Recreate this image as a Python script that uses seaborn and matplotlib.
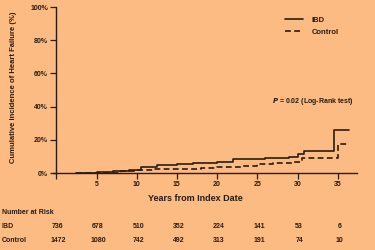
import matplotlib
matplotlib.use("Agg")
import matplotlib.pyplot as plt
import seaborn as sns
import pandas as pd

# ---- data ----
ibd_years = [2.5, 5, 7, 9, 10.5, 12.5, 15, 17, 20, 22, 26, 29, 30, 30.8, 34.5, 36.4]
ibd_vals = [0, 0.5, 1.0, 2.0, 3.4, 5.0, 5.5, 6.0, 6.8, 8.2, 8.8, 9.8, 11.2, 13.4, 25.8, 25.8]
ctrl_years = [2.5, 5, 8, 10, 12, 15, 18, 20, 23, 25, 27, 29.5, 30.5, 35, 36.4]
ctrl_vals = [0, 0.3, 1.0, 1.8, 2.2, 2.6, 3.2, 3.8, 4.4, 5.2, 6.0, 6.8, 9.2, 17.5, 17.5]

risk_years = [0, 5, 10, 15, 20, 25, 30, 35]
risk_ibd = [736, 678, 510, 352, 224, 141, 53, 6]
risk_ctrl = [1472, 1080, 742, 492, 313, 191, 74, 10]
y_ticks = [0, 20, 40, 60, 80, 100]
y_ticklabels = ["0%", "20%", "40%", "60%", "80%", "100%"]

bg = "#FBBB82"
ink = "#2a1c12"

sns.set_theme(style="ticks")
plt.rcParams["font.family"] = ["Liberation Sans", "DejaVu Sans"]
plt.rcParams["font.weight"] = "bold"

df = pd.concat([
    pd.DataFrame({"Year": ibd_years, "Incidence": ibd_vals, "Group": "IBD"}),
    pd.DataFrame({"Year": ctrl_years, "Incidence": ctrl_vals, "Group": "Control"}),
])

fig = plt.figure(figsize=(3.75, 2.5), dpi=100, facecolor=bg)
ax = fig.add_axes([0.1405, 0.308, 0.8115, 0.664])
ax.set_facecolor(bg)

sns.lineplot(data=df, x="Year", y="Incidence", style="Group",
             style_order=["IBD", "Control"],
             dashes={"IBD": "", "Control": (3.5, 2)},
             color=ink, linewidth=1.2, drawstyle="steps-post", ax=ax,
             legend=True)

ax.set_xlim(-0.45, 37.4)
ax.set_ylim(0, 100)
ax.spines["top"].set_visible(False)
ax.spines["right"].set_visible(False)
ax.spines["left"].set_position(("data", 0))
for s in ["left", "bottom"]:
    ax.spines[s].set_color(ink)
    ax.spines[s].set_linewidth(1.0)

ax.set_xticks(risk_years)
ax.set_xticklabels(["" if v == 0 else str(v) for v in risk_years], fontsize=5, fontweight="bold", color=ink)
ax.set_yticks(y_ticks)
ax.set_yticklabels(y_ticklabels, fontsize=5, fontweight="bold", color=ink)
ax.tick_params(axis="both", length=4, width=0.9, color=ink, pad=2)
ax.set_xlabel("")
ax.set_ylabel("")

leg = ax.legend(frameon=False, loc="upper left", bbox_to_anchor=(0.742, 0.985),
                handlelength=2.35, handletextpad=1.05, labelspacing=0.6,
                prop={"size": 5.5, "weight": "bold"})
for t in leg.get_texts():
    t.set_color(ink)

ax.text(0.99, 0.43, r"$\mathit{P}$ = 0.02 (Log-Rank test)", transform=ax.transAxes,
        ha="right", va="center", fontsize=5, fontweight="bold", color=ink)

fig.text(0.037, 0.652, "Cumulative Incidence of Heart Failure (%)", rotation=90,
         ha="center", va="center", fontsize=5.5, fontweight="bold", color=ink)
fig.text(0.52, 0.205, "Years from Index Date", ha="center", va="center",
         fontsize=6.5, fontweight="bold", color=ink)

tr = ax.get_xaxis_transform()
fig.text(0.005, 1 - 213 / 250, "Number at Risk", ha="left", va="center",
         fontsize=5, fontweight="bold", color=ink)
fig.text(0.005, 1 - 227 / 250, "IBD", ha="left", va="center",
         fontsize=5, fontweight="bold", color=ink)
fig.text(0.005, 1 - 240 / 250, "Control", ha="left", va="center",
         fontsize=5, fontweight="bold", color=ink)
for yr, a, b in zip(risk_years, risk_ibd, risk_ctrl):
    ax.text(yr + 0.2, -0.325, str(a), transform=tr, ha="center", va="center",
            fontsize=5, fontweight="bold", color=ink, clip_on=False)
    ax.text(yr + 0.2, -0.404, str(b), transform=tr, ha="center", va="center",
            fontsize=5, fontweight="bold", color=ink, clip_on=False)

fig.savefig("out.png", dpi=100, facecolor=bg)
